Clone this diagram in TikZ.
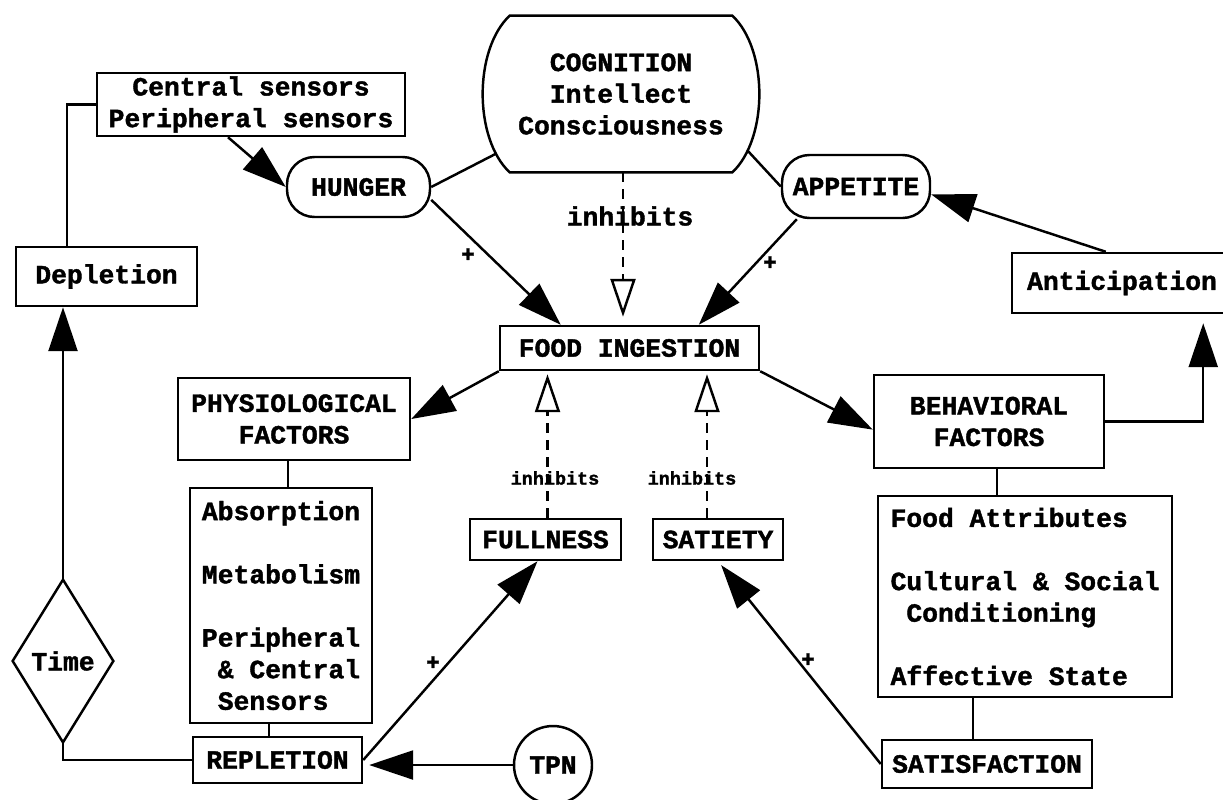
\documentclass[tikz,border=0pt]{standalone}
\usepackage{fontspec}
\setmainfont{Liberation Mono}[BoldFeatures={FakeBold=1.5}]
\usetikzlibrary{arrows.meta,calc}
\newcommand{\pxu}{0.02cm}
\tikzset{
  lbl/.style={font=\fontsize{15}{18}\selectfont\bfseries, inner sep=0pt},
  box/.style={lbl, draw, line width=1.4pt, align=center},
  pill/.style={box, rounded corners=0.55cm},
  conn/.style={line width=1.4pt},
  big/.style={conn, -{Triangle[length=0.88cm,width=0.58cm]}},
  inh/.style={conn, dash pattern=on 0.2cm off 0.14cm, -{Triangle[open,fill=white,length=0.76cm,width=0.5cm]}},
  small/.style={font=\fontsize{10.5}{12}\selectfont\bfseries, inner sep=0pt},
  plus/.style={font=\fontsize{13}{14}\selectfont\bfseries, inner sep=0pt},
}
\begin{document}
\begin{tikzpicture}[x=0.02cm,y=-0.02cm]
\useasboundingbox (0,0) rectangle (1223,799);
% nodes
\node[box, minimum width=308*\pxu, minimum height=63*\pxu] (sens) at (251,104.5) {Central sensors\\Peripheral sensors};
\node[box, minimum width=181*\pxu, minimum height=59*\pxu] (depl) at (106.5,276.5) {Depletion};
\node[pill, minimum width=143*\pxu, minimum height=60*\pxu] (hunger) at (358.5,187) {HUNGER};
\node[pill, minimum width=148*\pxu, minimum height=63*\pxu] (appetite) at (856,186.5) {APPETITE};
\node[lbl, align=center, minimum width=222*\pxu, minimum height=156*\pxu] (cog) at (621,94) {COGNITION\\Intellect\\Consciousness};
\draw[conn] (cog.north west) -- (cog.north east)
  .. controls ($(cog.north east)+(36,34)$) and ($(cog.south east)+(36,-34)$) .. (cog.south east)
  -- (cog.south west)
  .. controls ($(cog.south west)+(-36,-34)$) and ($(cog.north west)+(-36,34)$) .. (cog.north west) -- cycle;
\node[box, minimum width=259*\pxu, minimum height=44*\pxu] (food) at (629.5,348) {FOOD INGESTION};
\node[box, minimum width=232*\pxu, minimum height=82*\pxu] (phys) at (294,419) {PHYSIOLOGICAL\\FACTORS};
\node[box, align=left, minimum width=182*\pxu, minimum height=235*\pxu] (absb) at (281,605.5)
  {Absorption\\[\baselineskip]Metabolism\\[\baselineskip]Peripheral\\\phantom{x}\& Central\\\phantom{x}Sensors};
\node[box, minimum width=169*\pxu, minimum height=46*\pxu] (repl) at (277.5,760) {REPLETION};
\node[lbl, minimum width=100*\pxu, minimum height=162*\pxu] (time) at (63,661) {Time};
\draw[conn] (time.north) -- (time.east) -- (time.south) -- (time.west) -- cycle;
\node[box, minimum width=151*\pxu, minimum height=41*\pxu] (full) at (545.5,539.5) {FULLNESS};
\node[box, minimum width=130*\pxu, minimum height=41*\pxu] (sat) at (718,539.5) {SATIETY};
\node[lbl, draw, circle, line width=1.4pt, minimum size=78*\pxu] (tpn) at (553,765) {TPN};
\node[box, minimum width=230*\pxu, minimum height=93*\pxu] (behav) at (989,421.5) {BEHAVIORAL\\FACTORS};
\node[box, align=left, minimum width=294*\pxu, minimum height=201*\pxu] (fattr) at (1025,596.5)
  {Food Attributes\\[\baselineskip]Cultural \& Social\\\phantom{x}Conditioning\\[\baselineskip]Affective State};
\node[box, minimum width=210*\pxu, minimum height=48*\pxu] (satisf) at (987,764) {SATISFACTION};
\node[box, minimum width=220*\pxu, minimum height=60*\pxu] (antic) at (1122,283) {Anticipation};
% labels
\node[lbl] (inh0) at (630,216) {inhibits};
\node[small] (inh1) at (555,478) {inhibits};
\node[small] (inh2) at (692,478) {inhibits};
\node[plus] (p1) at (468,255) {+};
\node[plus] (p2) at (770,263) {+};
\node[plus] (p3) at (433,663) {+};
\node[plus] (p4) at (808,660) {+};
% connectors
\draw[conn] ([xshift=52*\pxu]depl.north west) |- (sens.west);
\draw[big] ([xshift=-23*\pxu]sens.south) -- (hunger.west);
\draw[conn] ($(cog.south west)+(-13,-19)$) -- (hunger.east);
\draw[conn] ($(cog.south east)+(15,-22)$) -- (appetite.west);
\draw[big] (hunger.-10) -- ([xshift=62*\pxu]food.north west);
\draw[big] ([xshift=16*\pxu]appetite.south west) -- ([xshift=200*\pxu]food.north west);
\draw[inh, shorten >=0.16cm] ([xshift=2*\pxu]cog.south) -- ($(cog.south |- food.north)+(2,0)$);
\draw[big] ([xshift=95*\pxu]antic.north west) -- (appetite.-6);
\draw[big, shorten >=0.18cm] (behav.east) -| ([xshift=-30*\pxu]antic.south east);
\draw[big] (food.south east) -- (behav.184);
\draw[big] (food.south west) -- (phys.east);
\draw[conn] ([xshift=-6*\pxu]phys.south) -- ($(phys.south |- absb.north)+(-6,0)$);
\draw[conn] ([xshift=-12*\pxu]absb.south) -- ($(absb.south |- repl.north)+(-12,0)$);
\draw[conn] (repl.west) -| (time.south);
\draw[big] (time.north) -- (time.north |- depl.south);
\draw[inh, shorten >=0.06cm] ([xshift=2*\pxu]full.north) -- ($(full.north |- food.south)+(2,0)$);
\draw[inh, shorten >=0.06cm] ([xshift=-11*\pxu]sat.north) -- ($(sat.north |- food.south)+(-11,0)$);
\draw[big] (repl.east) -- ([xshift=-8*\pxu]full.south);
\draw[big, shorten >=0.12cm] (tpn.west) -- (tpn.west -| repl.east);
\draw[big, shorten >=0.1cm] (satisf.west) -- (sat.south);
\draw[conn] ([xshift=8*\pxu]behav.south) -- ($(behav.south |- fattr.north)+(8,0)$);
\draw[conn] ($(satisf.north |- fattr.south)+(-14,0)$) -- ([xshift=-14*\pxu]satisf.north);
\end{tikzpicture}
\end{document}
